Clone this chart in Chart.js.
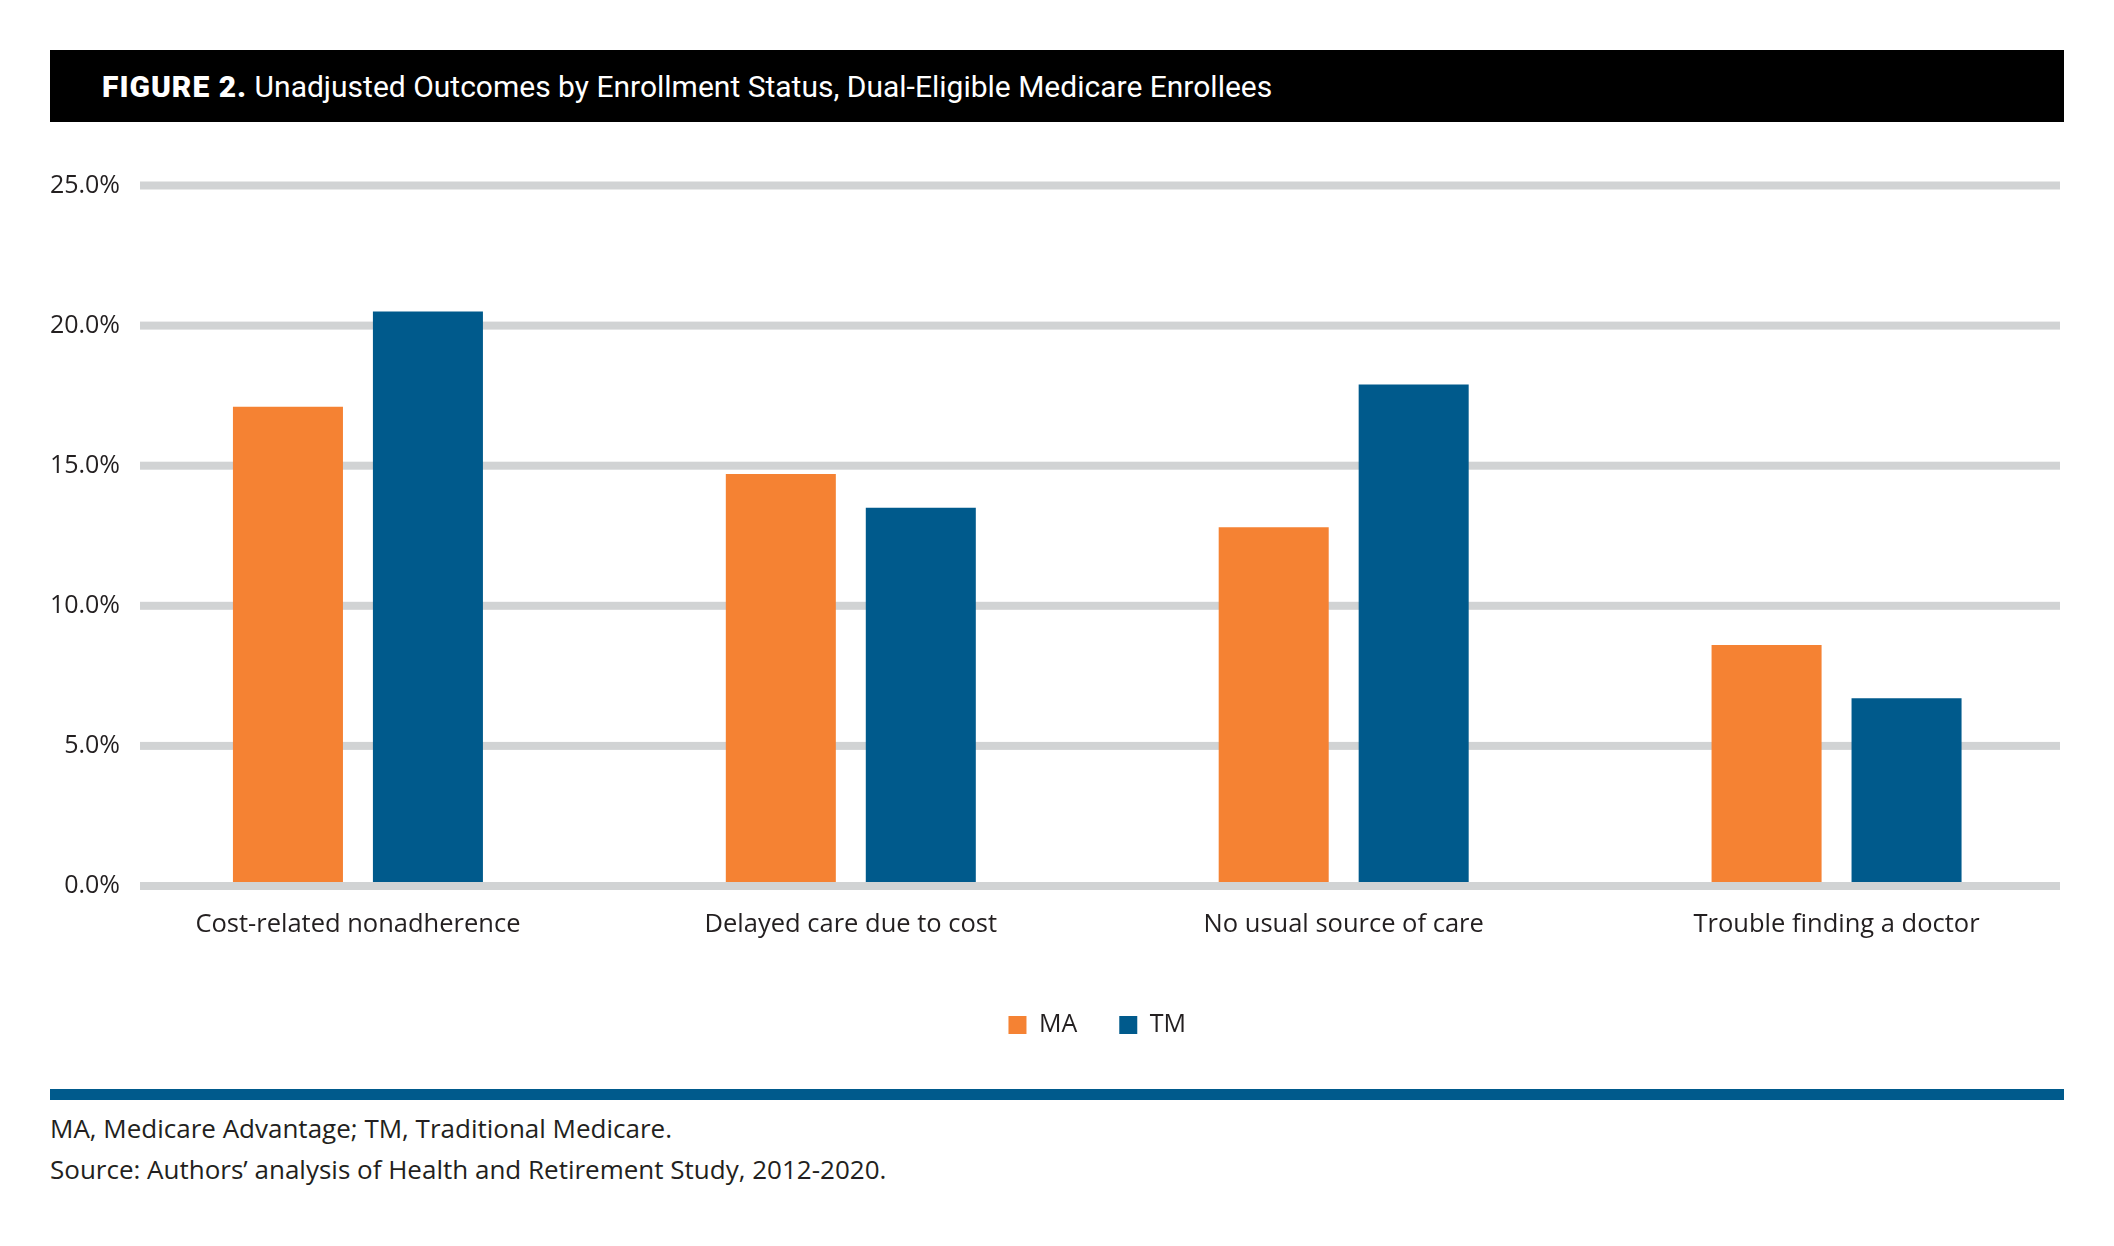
<!DOCTYPE html>
<html>
<head>
<meta charset="utf-8">
<title>Figure 2</title>
<script src="https://cdn.jsdelivr.net/npm/chart.js@4.4.1/dist/chart.umd.min.js"></script>
<style>
  html, body { margin: 0; padding: 0; background: #fff; width: 2114px; height: 1246px; overflow: hidden; }
  #titlebar {
    position: absolute; left: 50px; top: 50px; width: 2014px; height: 72px;
    background: #000; color: #fff; box-sizing: border-box; padding-left: 52px;
    font-family: Roboto, "Open Sans", sans-serif; font-size: 30px; line-height: 74px; white-space: nowrap;
  }
  #titlebar b { font-weight: 900; letter-spacing: 1px; }
  #chart1 { position: absolute; left: 0; top: 0; }
  #rule { position: absolute; left: 50px; top: 1089px; width: 2014px; height: 11px; background: #005a8c; }
  .note {
    position: absolute; left: 50px; color: #231f20; white-space: nowrap;
    font-family: "Open Sans", sans-serif; font-size: 26px; line-height: 32px;
  }
</style>
</head>
<body>
<div id="titlebar"><b>FIGURE 2.</b> Unadjusted Outcomes by Enrollment Status, Dual-Eligible Medicare Enrollees</div>
<canvas id="chart1" width="2114" height="1060"></canvas>
<div id="rule"></div>
<div class="note" style="top:1112px">MA, Medicare Advantage; TM, Traditional Medicare.</div>
<div class="note" style="top:1153px">Source: Authors’ analysis of Health and Retirement Study, 2012-2020.</div>

<script>
const categories = ['Cost-related nonadherence', 'Delayed care due to cost', 'No usual source of care', 'Trouble finding a doctor'];
const maValues = [17.1, 14.7, 12.8, 8.6];
const tmValues = [20.5, 13.5, 17.9, 6.7];
const yTickValues = [0, 5, 10, 15, 20, 25];

const gridColor = '#d1d3d4';
const textColor = '#231f20';
const tickFont = { family: 'Open Sans', size: 25 };
const formatTick = v => v.toFixed(1) + '%';

// y labels sit a little inside the plot's left edge; mirror + far alignment keeps them unclipped
const contexte = document.querySelector('#chart1').getContext('2d');
contexte.font = tickFont.size + 'px "' + tickFont.family + '"';
const widestTick = Math.max(...yTickValues.map(v => contexte.measureText(formatTick(v)).width));

// horizontal gridlines are shorter than the category band, so draw them here
const gridLines = {
    id: 'gridLines',
    drawLine(chart, value) {
        const ctx = chart.ctx;
        const area = chart.chartArea;
        const y = chart.scales.y.getPixelForValue(value);
        ctx.save();
        ctx.fillStyle = gridColor;
        ctx.fillRect(area.left + 28.5, y - 4, area.right - area.left - 51.5, 8);
        ctx.restore();
    },
    beforeDatasetsDraw(chart) {
        yTickValues.filter(v => v !== 0).forEach(v => this.drawLine(chart, v));
    },
    afterDatasetsDraw(chart) {
        this.drawLine(chart, 0);
    }
};

const configurations = {
    type: 'bar',
    data: {
        labels: categories,
        datasets: [
            { label: 'MA', data: maValues, backgroundColor: '#f58233' },
            { label: 'TM', data: tmValues, backgroundColor: '#005a8c' }
        ]
    },
    options: {
        responsive: false,
        animation: false,
        categoryPercentage: 0.568,
        barPercentage: 0.786,
        layout: {
            padding: { top: 185.5, right: 31, bottom: 12.5, left: 0 }
        },
        scales: {
            x: {
                grid: { display: false, drawTicks: false },
                border: { display: false },
                afterFit: s => { s.height = 84.5; },
                ticks: {
                    color: textColor,
                    padding: 23,
                    maxRotation: 0,
                    autoSkip: false,
                    font: { family: 'Open Sans', size: 25.5 }
                }
            },
            y: {
                min: 0,
                max: 25,
                grid: { display: false, drawTicks: false },
                border: { display: false },
                afterFit: s => { s.width = 111.5; },
                afterBuildTicks: s => { s.ticks = yTickValues.map(v => ({ value: v })); },
                ticks: {
                    color: textColor,
                    mirror: true,
                    crossAlign: 'far',
                    padding: 8.5 - widestTick,
                    font: tickFont,
                    callback: formatTick
                }
            }
        },
        plugins: {
            legend: {
                position: 'bottom',
                fullSize: false,
                labels: {
                    boxWidth: 18,
                    boxHeight: 18,
                    padding: 42,
                    color: textColor,
                    font: { family: 'Open Sans', size: 25 }
                }
            },
            tooltip: { enabled: false }
        }
    },
    plugins: [gridLines]
};

const graphique = new Chart(contexte, configurations);
</script>
</body>
</html>
